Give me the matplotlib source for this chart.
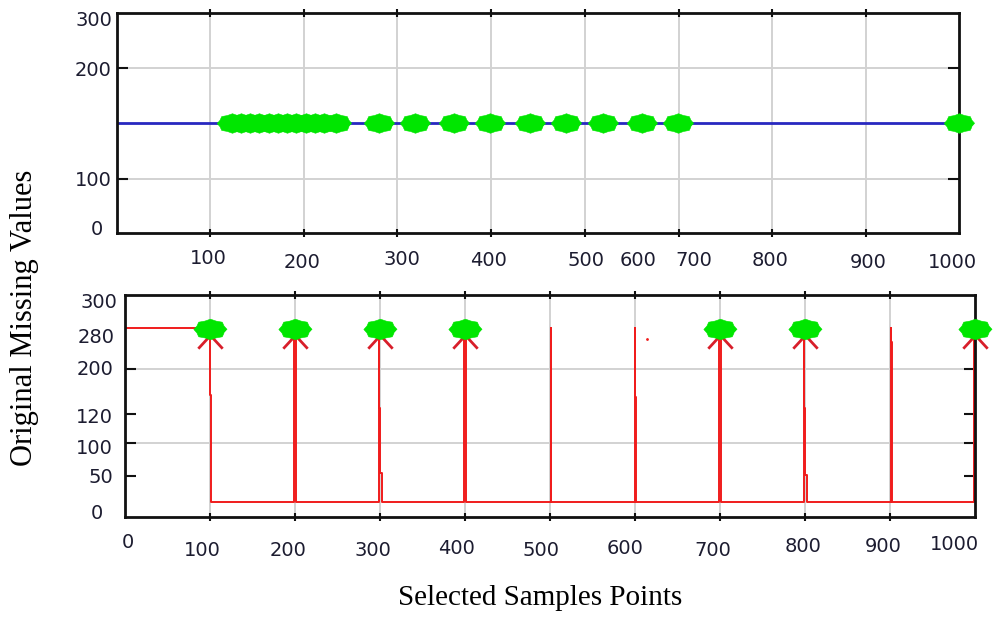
import numpy as np
import matplotlib
matplotlib.use("Agg")
import matplotlib.pyplot as plt
from matplotlib.path import Path
from matplotlib.transforms import blended_transform_factory

W, H = 994, 619

# ---- top panel: signal after filling + positions of the original missing values
top_line_x = [0, 1000]
top_line_y = [150, 150]
top_missing_x = [136, 147, 158, 169, 180, 191, 202, 213, 224, 235, 246, 260,
                 311, 354, 400, 443, 490, 533, 577, 623, 666, 1000]
top_missing_value = 150
top_xlabels = ["100", "200", "300", "400", "500", "600", "700", "800", "900", "1000"]
top_ylabels = ["0", "100", "200", "300"]

# ---- bottom panel: raw signal with spikes + flagged samples
red_x = [0, 100, 100, 101.5, 101.5,
         198.8, 198.8, 200.8, 200.8,
         299, 299, 299, 300.2, 300.2, 301.8, 301.8,
         398.8, 398.8, 400.8, 400.8,
         501, 501, 501,
         599.5, 599.5, 599.5, 601, 601,
         699, 699, 701, 701,
         799, 799, 799, 800.2, 800.2, 802, 802,
         901, 901, 901, 902.5, 902.5,
         998.5, 998.5]
red_y = [255, 255, 165, 165, 20,
         20, 250, 250, 20,
         20, 250, 147, 147, 59, 59, 20,
         20, 250, 250, 20,
         20, 255, 20,
         20, 255, 162, 162, 20,
         20, 250, 250, 20,
         20, 250, 147, 147, 57, 57, 20,
         20, 255, 237, 237, 20,
         20, 250]
stray_x, stray_y = [614], [240]
bot_missing_x = [100, 200, 300, 400, 700, 800, 1000]
bot_missing_value = 254
arrow_tip = 246
bot_xlabels = ["0", "100", "200", "300", "400", "500", "600", "700", "800", "900", "1000"]
bot_ylabels = ["0", "50", "100", "120", "200", "280", "300"]

# layout (where the labels sit in the original figure)
top_grid_x = [111, 222, 333, 444, 556, 667, 778, 889]
top_grid_y = [74, 225]
top_xlab_pos = [109, 220, 338, 441, 557, 619, 685, 776, 892, 992]
top_xlab_ypx = [259, 263, 260, 261, 261, 261, 261, 261, 263, 263]
top_ylab_pos = [5, 71, 222, 290]
top_ylab_xpx = [103, 112, 112, 112]
bot_grid_x = [100, 200, 300, 400, 500, 600, 700, 800, 900]
bot_grid_y = [100, 200]
bot_yticks = [55, 100, 139, 200]
bot_xlab_pos = [3.5, 90.6, 192, 292, 390, 489, 588, 692, 798, 892, 976]
bot_xlab_ypx = [542, 550, 550, 550, 548, 550, 548, 550, 547, 547, 545]
bot_ylab_pos = [5, 54, 93, 135, 199, 243, 290]
bot_ylab_xpx = [103, 113, 113, 113, 113, 115, 117]

GREEN = "#00e600"
RED = "#f01c1c"
TXT = "#1c1c30"


def burst(n=8, rin=0.88, squash=0.64):
    ang = np.linspace(0, 2 * np.pi, 2 * n, endpoint=False)
    r = np.where(np.arange(2 * n) % 2 == 0, 1.0, rin)
    return np.column_stack([r * np.cos(ang), squash * r * np.sin(ang)])


chevron = Path([(-12, -13), (0, 0), (12, -13)])


def style_axes(ax):
    for s in ax.spines.values():
        s.set_linewidth(2)
        s.set_color("#111111")
    ax.tick_params(axis="both", which="both", labelbottom=False, labelleft=False,
                   top=True, right=True, width=1.5, length=6, color="#111111")
    ax.tick_params(axis="x", direction="inout")
    ax.tick_params(axis="y", direction="in", length=8)


fig = plt.figure(figsize=(W / 100, H / 100), dpi=100)

# ---------------- top panel
ax1 = fig.add_axes([117 / W, 1 - 233 / H, 842 / W, 220 / H])
ax1.set_xlim(0, 1000)
ax1.set_ylim(0, 300)
ax1.set_xticks(top_grid_x)
ax1.set_yticks(top_grid_y)
ax1.grid(True, color="#d2d2d2", linewidth=1.4)
ax1.set_axisbelow(True)
style_axes(ax1)
ax1.plot(top_line_x, top_line_y, color="#2828c0", linewidth=2, zorder=2)
ax1.plot(top_missing_x, [top_missing_value] * len(top_missing_x), linestyle="none",
         marker=burst(), markersize=22, color=GREEN, markeredgewidth=0.4,
         zorder=4, clip_on=False)

tr = blended_transform_factory(ax1.transData, fig.transFigure)
for lab, x, ypx in zip(top_xlabels, top_xlab_pos, top_xlab_ypx):
    fig.text(x, 1 - ypx / H, lab, transform=tr, ha="center", va="center",
             fontsize=14, color=TXT)
tr = blended_transform_factory(fig.transFigure, ax1.transData)
for lab, y, xpx in zip(top_ylabels, top_ylab_pos, top_ylab_xpx):
    fig.text(xpx / W, y, lab, transform=tr, ha="right", va="center",
             fontsize=14, color=TXT)

# ---------------- bottom panel
ax2 = fig.add_axes([125 / W, 1 - 517 / H, 850 / W, 222 / H])
ax2.set_xlim(0, 1000)
ax2.set_ylim(0, 300)
ax2.set_xticks(bot_grid_x)
ax2.set_yticks(bot_yticks)
for gx in bot_grid_x:
    ax2.axvline(gx, color="#d2d2d2", linewidth=1.4, zorder=0)
for gy in bot_grid_y:
    ax2.axhline(gy, xmin=0.012, color="#d2d2d2", linewidth=1.4, zorder=0)
style_axes(ax2)
ax2.plot(red_x, red_y, color=RED, linewidth=1.4, zorder=2)
ax2.plot(stray_x, stray_y, linestyle="none", marker="o", markersize=1,
         color=RED, zorder=2)
ax2.plot(bot_missing_x, [arrow_tip] * len(bot_missing_x), linestyle="none",
         marker=chevron, markersize=19, markerfacecolor="none",
         markeredgecolor="#d81e2a", markeredgewidth=2, zorder=3, clip_on=False)
ax2.plot(bot_missing_x, [bot_missing_value] * len(bot_missing_x), linestyle="none",
         marker=burst(squash=0.62), markersize=24, color=GREEN, markeredgewidth=0.4,
         zorder=4, clip_on=False)

tr = blended_transform_factory(ax2.transData, fig.transFigure)
for lab, x, ypx in zip(bot_xlabels, bot_xlab_pos, bot_xlab_ypx):
    fig.text(x, 1 - ypx / H, lab, transform=tr, ha="center", va="center",
             fontsize=14, color=TXT)
tr = blended_transform_factory(fig.transFigure, ax2.transData)
for lab, y, xpx in zip(bot_ylabels, bot_ylab_pos, bot_ylab_xpx):
    fig.text(xpx / W, y, lab, transform=tr, ha="right", va="center",
             fontsize=14, color=TXT)

# axis titles
fig.text(25 / W, 1 - 318 / H, "Original Missing Values", rotation=90,
         ha="center", va="center", fontsize=22, family="Liberation Serif")
fig.text(540 / W, 1 - 598 / H, "Selected Samples Points",
         ha="center", va="center", fontsize=21, family="Liberation Serif")

fig.savefig("out.png", dpi=100)
